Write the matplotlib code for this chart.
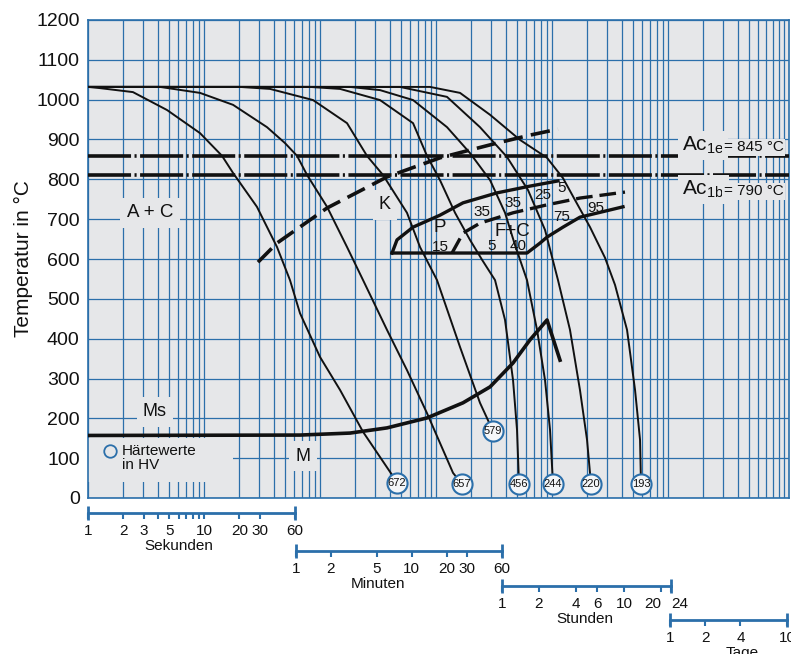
import matplotlib
matplotlib.use("Agg")
import matplotlib.pyplot as plt
from matplotlib.ticker import LogLocator, NullFormatter
from matplotlib.patches import Rectangle

plt.rcParams['font.family'] = ['Liberation Sans', 'DejaVu Sans']
plt.rcParams['mathtext.default'] = 'regular'
plt.rcParams['lines.scale_dashes'] = False

BLUE = '#2b6faa'
BG = '#e6e7e9'
INK = '#111111'

# cooling curves, time in s / temperature in degC
c672_t = [1, 1.27, 2.44, 4.8, 9.24, 14.3, 17.8, 28.6, 42.6, 55.1, 67.2, 100, 149, 235, 418, 461]
c672_T = [1032, 1029, 1019, 974, 916, 859, 816, 731, 630, 547, 464, 354, 271, 166, 58, 38]
c657_t = [1, 4.18, 9.24, 17.8, 34.9, 49.9, 63.4, 77.3, 115, 171, 235, 378, 562, 836, 1402, 1675]
c657_T = [1032, 1032, 1017, 987, 931, 891, 859, 811, 731, 630, 547, 422, 321, 213, 63, 35]
c579_t = [1, 20.4, 37.1, 87.1, 171, 254, 349, 562, 728, 1020, 1611, 2393, 3099]
c579_T = [1032, 1032, 1027, 999, 941, 859, 811, 716, 630, 547, 379, 239, 168]
c456_t = [1, 82, 149, 329, 634, 836, 1082, 1459, 1963, 2494, 3227, 3936, 4613, 4993, 5196]
c456_T = [1032, 1032, 1027, 999, 941, 859, 798, 716, 648, 598, 547, 447, 296, 171, 35]
c244_t = [1, 181, 329, 634, 1244, 1963, 2924, 3936, 4797, 6087, 7430, 8705, 9616, 10200]
c244_T = [1032, 1032, 1024, 999, 931, 866, 798, 716, 635, 547, 422, 296, 171, 35]
c220_t = [1, 489, 1244, 2393, 4093, 6213, 8705, 11260, 14290, 17420, 20040, 21680]
c220_T = [1032, 1032, 1007, 931, 856, 773, 673, 547, 422, 271, 146, 35]
c193_t = [1, 888, 1611, 2924, 5297, 9060, 12440, 15790, 21270, 28640, 34920, 44340, 51980, 57400, 58480]
c193_T = [1032, 1032, 1017, 962, 899, 854, 803, 748, 680, 603, 535, 422, 271, 146, 35]

# martensite start
ms_t = [1, 67.2, 181.5, 378, 836, 1709, 2924, 4613, 6460, 9060, 11720]
ms_T = [157, 158, 163, 176, 201, 239, 279, 339, 397, 447, 346]

# carbide precipitation start (dashed)
k_t = [29.2, 42.6, 115, 378, 1082, 1709, 3357, 6460, 11260]
k_T = [592, 640, 728, 806, 854, 869, 891, 911, 926]

# pearlite field
pu_t = [418, 461, 634, 1082, 1709, 3357, 6460, 11260]
pu_T = [615, 648, 680, 710, 741, 766, 783, 796]
pl_t = [418, 6087, 7888, 9060, 12440, 17420, 40930]
pl_T = [615, 615, 640, 655, 680, 705, 731]
fc_t = [1374, 1709, 2393, 4613, 9060, 17420, 42560]
fc_T = [615, 665, 690, 716, 736, 753, 768]

ac1e, ac1b = 859, 811

# hardness values at end of cooling curves
hv_t = [461, 1675, 3099, 5196, 10200, 21680, 58480]
hv_T = [38, 35, 168, 35, 35, 35, 35]
hv_val = [672, 657, 579, 456, 244, 220, 193]

# percent labels inside the pearlite field
pct_t = [1082, 2494, 4613, 8365, 12190, 3040, 5093, 12190, 23940]
pct_T = [630, 718, 741, 761, 778, 633, 633, 705, 728]
pct_lbl = ['15', '35', '35', '25', '5', '5', '40', '75', '95']

W, H = 791, 654
fig = plt.figure(figsize=(W / 100, H / 100), dpi=100)
ax = fig.add_axes([88 / W, 1 - 498 / H, 701 / W, 478 / H])
ax.set_xscale('log')
ax.set_xlim(1, 1.104e6)
ax.set_ylim(0, 1200)
ax.set_facecolor(BG)
ax.set_yticks(range(0, 1300, 100))
ax.xaxis.set_major_locator(LogLocator(base=10, numticks=20))
ax.xaxis.set_minor_locator(LogLocator(base=10, subs=range(2, 10), numticks=100))
ax.xaxis.set_minor_formatter(NullFormatter())
ax.tick_params(axis='x', which='both', length=0, labelbottom=False)
ax.tick_params(axis='y', length=0, labelsize=14, pad=6, labelcolor=INK)
ax.grid(which='both', axis='x', color=BLUE, lw=0.9)
ax.grid(which='major', axis='y', color=BLUE, lw=0.9)
ax.set_axisbelow(True)
for s in ax.spines.values():
    s.set_color(BLUE)
    s.set_linewidth(1.2)
ax.set_ylabel('Temperatur in °C', fontsize=15, labelpad=2, color=INK)

# cooling curves
for t, T in [(c672_t, c672_T), (c657_t, c657_T), (c579_t, c579_T), (c456_t, c456_T),
             (c244_t, c244_T), (c220_t, c220_T), (c193_t, c193_T)]:
    ax.plot(t, T, color=INK, lw=1.4, zorder=3, solid_joinstyle='round')

# Ac lines
ax.axhline(ac1e, color=INK, lw=2.6, dashes=(31, 2.5, 1.5, 2.5), zorder=3)
ax.axhline(ac1b, color=INK, lw=2.6, dashes=(31, 2.5, 1.5, 2.5), zorder=3)

ax.plot(ms_t, ms_T, color=INK, lw=2.6, zorder=3, solid_joinstyle='round')
ax.plot(k_t, k_T, color=INK, lw=2.6, dashes=(14, 6), zorder=3)
ax.plot(pu_t, pu_T, color=INK, lw=2.4, zorder=3, solid_joinstyle='round')
ax.plot(pl_t, pl_T, color=INK, lw=2.4, zorder=3, solid_joinstyle='round')
ax.plot(fc_t, fc_T, color=INK, lw=2.4, dashes=(12, 5), zorder=3)

# hardness circles
ax.scatter(hv_t, hv_T, s=210, facecolor='#f4f6f8', edgecolor=BLUE, lw=1.5, zorder=5)
for t, T, v in zip(hv_t, hv_T, hv_val):
    ax.text(t, T, str(v), ha='center', va='center', fontsize=8, color=INK, zorder=6)

for t, T, s in zip(pct_t, pct_T, pct_lbl):
    ax.text(t, T, s, ha='center', va='center', fontsize=11, color=INK, zorder=4)

box = dict(boxstyle='square,pad=0.35', fc=BG, ec='none')
ax.text(3.42, 716, 'A + C', ha='center', va='center', fontsize=13.5, color=INK, bbox=box, zorder=2)
ax.text(3.78, 216, 'Ms', ha='center', va='center', fontsize=13, color=INK, bbox=box, zorder=2)
ax.text(71.3, 105, 'M', ha='center', va='center', fontsize=13, color=INK, bbox=box, zorder=2)
ax.text(363, 736, 'K', ha='center', va='center', fontsize=13, color=INK, bbox=box, zorder=2)
ax.text(1082, 678, 'P', ha='center', va='center', fontsize=13.5, color=INK, zorder=4)
ax.text(4520, 668, 'F+C', ha='center', va='center', fontsize=13.5, color=INK, zorder=4)

# legend for hardness values
ax.add_patch(Rectangle((0, 0.033), 0.207, 0.092, transform=ax.transAxes,
                       fc=BG, ec='none', zorder=1.5))
ax.plot([0.032], [0.098], transform=ax.transAxes, marker='o', ms=9, mfc='none',
        mec=BLUE, mew=1.3, ls='none', zorder=4)
ax.text(0.048, 0.083, 'Härtewerte\nin HV', transform=ax.transAxes, ha='left', va='center',
        fontsize=11, linespacing=1.0, color=INK, zorder=4)

# Ac labels
ytr = ax.get_yaxis_transform()
for yv, sub, val in [(870, '1e', '845'), (760, '1b', '790')]:
    t1 = ax.text(0.992, yv, '= %s °C' % val, transform=ytr, ha='right', va='baseline',
                 fontsize=11, color=INK, zorder=4,
                 bbox=dict(boxstyle='square,pad=0.1', fc=BG, ec='none'))
    ax.annotate('Ac$_{%s}$' % sub, xy=(0, 0), xycoords=t1, xytext=(0.5, 2.5),
                textcoords='offset points', ha='right', va='baseline', fontsize=15,
                color=INK, zorder=3.8, bbox=dict(boxstyle='square,pad=0.2', fc=BG, ec='none'))


def scale_bar(x0, x1, ybar, hi, majors, minors, name, name_x):
    a = fig.add_axes([x0 / W, 1 - ybar / H, (x1 - x0) / W, 0.001])
    a.set_xscale('log')
    a.set_xlim(1, hi)
    a.set_ylim(0, 1)
    a.set_yticks([])
    a.patch.set_alpha(0)
    for k in ['left', 'right', 'top']:
        a.spines[k].set_visible(False)
    a.spines['bottom'].set_color(BLUE)
    a.spines['bottom'].set_linewidth(2)
    a.set_xticks(majors)
    a.set_xticklabels([str(v) for v in majors])
    a.set_xticks(minors, minor=True)
    a.xaxis.set_minor_formatter(NullFormatter())
    a.tick_params(which='both', direction='out', length=4, width=1.5, color=BLUE,
                  labelsize=11, pad=4, labelcolor=INK)
    a.plot([1, hi], [0, 0], ls='none', marker='|', ms=10, mew=2, color=BLUE, clip_on=False)
    a.annotate(name, (name_x, 0), xycoords='axes fraction', xytext=(0, -24),
               textcoords='offset points', ha='center', va='center', fontsize=11, color=INK)
    return a


scale_bar(88, 295, 513, 60, [1, 2, 3, 5, 10, 20, 30, 60], [4, 6, 7, 8, 9], 'Sekunden', 0.44)
scale_bar(296, 502, 551, 60, [1, 2, 5, 10, 20, 30, 60], [], 'Minuten', 0.40)
ah = scale_bar(502, 671, 586, 24, [1, 2, 4, 6, 10, 20, 24], [], 'Stunden', 0.49)
lbls = ah.get_xticklabels()
lbls[-2].set_horizontalalignment('right')
lbls[-1].set_horizontalalignment('left')
scale_bar(670, 787, 620, 10, [1, 2, 4, 10], [], 'Tage', 0.62)

fig.savefig('out.png', dpi=100)
